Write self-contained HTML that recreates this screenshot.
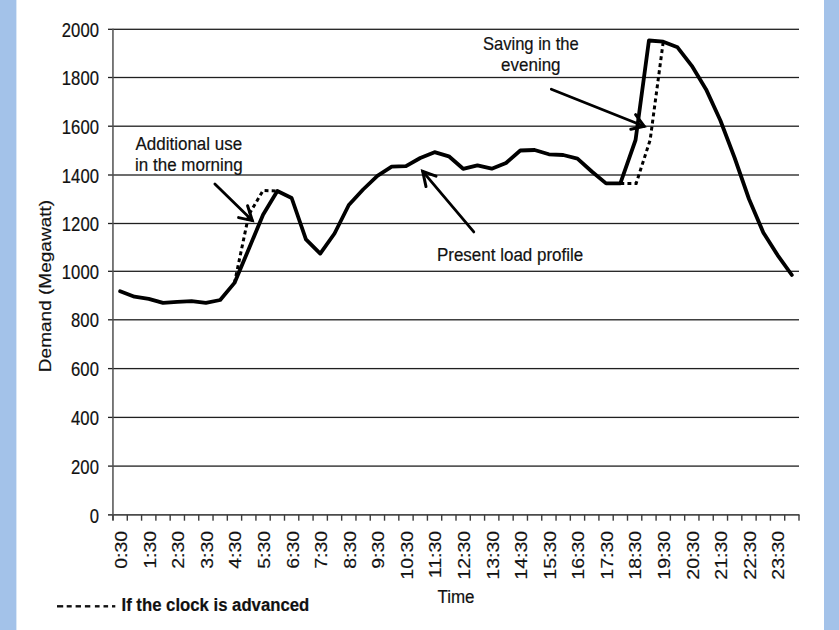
<!DOCTYPE html><html><head><meta charset="utf-8"><style>html,body{margin:0;padding:0;background:#fff;}svg{display:block}</style></head><body>
<svg width="839" height="630" viewBox="0 0 839 630" font-family="'Liberation Sans', sans-serif">
<style>text{stroke:#111;stroke-width:0.18px;paint-order:stroke}</style>
<rect x="0" y="0" width="839" height="630" fill="#ffffff"/>
<rect x="0" y="0" width="16.4" height="630" fill="#a3c2e9"/>
<rect x="824" y="0" width="15" height="630" fill="#a3c2e9"/>
<rect x="108" y="28.65" width="691.0" height="1.3" fill="#202020"/>
<rect x="108" y="76.85" width="691.0" height="1.3" fill="#202020"/>
<rect x="108" y="125.55" width="691.0" height="1.3" fill="#202020"/>
<rect x="108" y="174.35" width="691.0" height="1.3" fill="#202020"/>
<rect x="108" y="222.85" width="691.0" height="1.3" fill="#202020"/>
<rect x="108" y="270.65" width="691.0" height="1.3" fill="#202020"/>
<rect x="108" y="319.15" width="691.0" height="1.3" fill="#202020"/>
<rect x="108" y="367.95" width="691.0" height="1.3" fill="#202020"/>
<rect x="108" y="416.75" width="691.0" height="1.3" fill="#202020"/>
<rect x="108" y="465.45" width="691.0" height="1.3" fill="#202020"/>
<rect x="108" y="514.20" width="691.5" height="1.4" fill="#202020"/>
<rect x="112.2" y="28.70" width="1.5" height="491.6" fill="#505050"/>
<rect x="112.30" y="514.9" width="1.4" height="5.8" fill="#3c3c3c"/>
<rect x="126.59" y="514.9" width="1.4" height="5.8" fill="#3c3c3c"/>
<rect x="140.88" y="514.9" width="1.4" height="5.8" fill="#3c3c3c"/>
<rect x="155.18" y="514.9" width="1.4" height="5.8" fill="#3c3c3c"/>
<rect x="169.47" y="514.9" width="1.4" height="5.8" fill="#3c3c3c"/>
<rect x="183.76" y="514.9" width="1.4" height="5.8" fill="#3c3c3c"/>
<rect x="198.05" y="514.9" width="1.4" height="5.8" fill="#3c3c3c"/>
<rect x="212.34" y="514.9" width="1.4" height="5.8" fill="#3c3c3c"/>
<rect x="226.63" y="514.9" width="1.4" height="5.8" fill="#3c3c3c"/>
<rect x="240.93" y="514.9" width="1.4" height="5.8" fill="#3c3c3c"/>
<rect x="255.22" y="514.9" width="1.4" height="5.8" fill="#3c3c3c"/>
<rect x="269.51" y="514.9" width="1.4" height="5.8" fill="#3c3c3c"/>
<rect x="283.80" y="514.9" width="1.4" height="5.8" fill="#3c3c3c"/>
<rect x="298.09" y="514.9" width="1.4" height="5.8" fill="#3c3c3c"/>
<rect x="312.38" y="514.9" width="1.4" height="5.8" fill="#3c3c3c"/>
<rect x="326.68" y="514.9" width="1.4" height="5.8" fill="#3c3c3c"/>
<rect x="340.97" y="514.9" width="1.4" height="5.8" fill="#3c3c3c"/>
<rect x="355.26" y="514.9" width="1.4" height="5.8" fill="#3c3c3c"/>
<rect x="369.55" y="514.9" width="1.4" height="5.8" fill="#3c3c3c"/>
<rect x="383.84" y="514.9" width="1.4" height="5.8" fill="#3c3c3c"/>
<rect x="398.13" y="514.9" width="1.4" height="5.8" fill="#3c3c3c"/>
<rect x="412.43" y="514.9" width="1.4" height="5.8" fill="#3c3c3c"/>
<rect x="426.72" y="514.9" width="1.4" height="5.8" fill="#3c3c3c"/>
<rect x="441.01" y="514.9" width="1.4" height="5.8" fill="#3c3c3c"/>
<rect x="455.30" y="514.9" width="1.4" height="5.8" fill="#3c3c3c"/>
<rect x="469.59" y="514.9" width="1.4" height="5.8" fill="#3c3c3c"/>
<rect x="483.88" y="514.9" width="1.4" height="5.8" fill="#3c3c3c"/>
<rect x="498.18" y="514.9" width="1.4" height="5.8" fill="#3c3c3c"/>
<rect x="512.47" y="514.9" width="1.4" height="5.8" fill="#3c3c3c"/>
<rect x="526.76" y="514.9" width="1.4" height="5.8" fill="#3c3c3c"/>
<rect x="541.05" y="514.9" width="1.4" height="5.8" fill="#3c3c3c"/>
<rect x="555.34" y="514.9" width="1.4" height="5.8" fill="#3c3c3c"/>
<rect x="569.63" y="514.9" width="1.4" height="5.8" fill="#3c3c3c"/>
<rect x="583.92" y="514.9" width="1.4" height="5.8" fill="#3c3c3c"/>
<rect x="598.22" y="514.9" width="1.4" height="5.8" fill="#3c3c3c"/>
<rect x="612.51" y="514.9" width="1.4" height="5.8" fill="#3c3c3c"/>
<rect x="626.80" y="514.9" width="1.4" height="5.8" fill="#3c3c3c"/>
<rect x="641.09" y="514.9" width="1.4" height="5.8" fill="#3c3c3c"/>
<rect x="655.38" y="514.9" width="1.4" height="5.8" fill="#3c3c3c"/>
<rect x="669.67" y="514.9" width="1.4" height="5.8" fill="#3c3c3c"/>
<rect x="683.97" y="514.9" width="1.4" height="5.8" fill="#3c3c3c"/>
<rect x="698.26" y="514.9" width="1.4" height="5.8" fill="#3c3c3c"/>
<rect x="712.55" y="514.9" width="1.4" height="5.8" fill="#3c3c3c"/>
<rect x="726.84" y="514.9" width="1.4" height="5.8" fill="#3c3c3c"/>
<rect x="741.13" y="514.9" width="1.4" height="5.8" fill="#3c3c3c"/>
<rect x="755.42" y="514.9" width="1.4" height="5.8" fill="#3c3c3c"/>
<rect x="769.72" y="514.9" width="1.4" height="5.8" fill="#3c3c3c"/>
<rect x="784.01" y="514.9" width="1.4" height="5.8" fill="#3c3c3c"/>
<rect x="798.30" y="514.9" width="1.4" height="5.8" fill="#3c3c3c"/>
<text transform="translate(98.9,36.90) scale(0.98,1.15)" font-size="17" text-anchor="end" fill="#111">2000</text>
<text transform="translate(98.9,85.10) scale(0.98,1.15)" font-size="17" text-anchor="end" fill="#111">1800</text>
<text transform="translate(98.9,133.80) scale(0.98,1.15)" font-size="17" text-anchor="end" fill="#111">1600</text>
<text transform="translate(98.9,182.60) scale(0.98,1.15)" font-size="17" text-anchor="end" fill="#111">1400</text>
<text transform="translate(98.9,231.10) scale(0.98,1.15)" font-size="17" text-anchor="end" fill="#111">1200</text>
<text transform="translate(98.9,278.90) scale(0.98,1.15)" font-size="17" text-anchor="end" fill="#111">1000</text>
<text transform="translate(98.9,327.40) scale(0.98,1.15)" font-size="17" text-anchor="end" fill="#111">800</text>
<text transform="translate(98.9,376.20) scale(0.98,1.15)" font-size="17" text-anchor="end" fill="#111">600</text>
<text transform="translate(98.9,425.00) scale(0.98,1.15)" font-size="17" text-anchor="end" fill="#111">400</text>
<text transform="translate(98.9,473.70) scale(0.98,1.15)" font-size="17" text-anchor="end" fill="#111">200</text>
<text transform="translate(98.9,522.50) scale(0.98,1.15)" font-size="17" text-anchor="end" fill="#111">0</text>
<text transform="translate(127.20,530.8) scale(1,1.15) rotate(-90)" font-size="17" text-anchor="end" fill="#111">0:30</text>
<text transform="translate(155.77,530.8) scale(1,1.15) rotate(-90)" font-size="17" text-anchor="end" fill="#111">1:30</text>
<text transform="translate(184.33,530.8) scale(1,1.15) rotate(-90)" font-size="17" text-anchor="end" fill="#111">2:30</text>
<text transform="translate(212.90,530.8) scale(1,1.15) rotate(-90)" font-size="17" text-anchor="end" fill="#111">3:30</text>
<text transform="translate(241.46,530.8) scale(1,1.15) rotate(-90)" font-size="17" text-anchor="end" fill="#111">4:30</text>
<text transform="translate(270.03,530.8) scale(1,1.15) rotate(-90)" font-size="17" text-anchor="end" fill="#111">5:30</text>
<text transform="translate(298.59,530.8) scale(1,1.15) rotate(-90)" font-size="17" text-anchor="end" fill="#111">6:30</text>
<text transform="translate(327.16,530.8) scale(1,1.15) rotate(-90)" font-size="17" text-anchor="end" fill="#111">7:30</text>
<text transform="translate(355.72,530.8) scale(1,1.15) rotate(-90)" font-size="17" text-anchor="end" fill="#111">8:30</text>
<text transform="translate(384.29,530.8) scale(1,1.15) rotate(-90)" font-size="17" text-anchor="end" fill="#111">9:30</text>
<text transform="translate(412.85,530.8) scale(1,1.15) rotate(-90)" font-size="17" text-anchor="end" fill="#111">10:30</text>
<text transform="translate(441.42,530.8) scale(1,1.15) rotate(-90)" font-size="17" text-anchor="end" fill="#111">11:30</text>
<text transform="translate(469.98,530.8) scale(1,1.15) rotate(-90)" font-size="17" text-anchor="end" fill="#111">12:30</text>
<text transform="translate(498.55,530.8) scale(1,1.15) rotate(-90)" font-size="17" text-anchor="end" fill="#111">13:30</text>
<text transform="translate(527.11,530.8) scale(1,1.15) rotate(-90)" font-size="17" text-anchor="end" fill="#111">14:30</text>
<text transform="translate(555.68,530.8) scale(1,1.15) rotate(-90)" font-size="17" text-anchor="end" fill="#111">15:30</text>
<text transform="translate(584.24,530.8) scale(1,1.15) rotate(-90)" font-size="17" text-anchor="end" fill="#111">16:30</text>
<text transform="translate(612.81,530.8) scale(1,1.15) rotate(-90)" font-size="17" text-anchor="end" fill="#111">17:30</text>
<text transform="translate(641.37,530.8) scale(1,1.15) rotate(-90)" font-size="17" text-anchor="end" fill="#111">18:30</text>
<text transform="translate(669.94,530.8) scale(1,1.15) rotate(-90)" font-size="17" text-anchor="end" fill="#111">19:30</text>
<text transform="translate(698.50,530.8) scale(1,1.15) rotate(-90)" font-size="17" text-anchor="end" fill="#111">20:30</text>
<text transform="translate(727.07,530.8) scale(1,1.15) rotate(-90)" font-size="17" text-anchor="end" fill="#111">21:30</text>
<text transform="translate(755.63,530.8) scale(1,1.15) rotate(-90)" font-size="17" text-anchor="end" fill="#111">22:30</text>
<text transform="translate(784.20,530.8) scale(1,1.15) rotate(-90)" font-size="17" text-anchor="end" fill="#111">23:30</text>
<text transform="translate(50.8,286) scale(1,1.12) rotate(-90)" font-size="17" text-anchor="middle" fill="#111">Demand (Megawatt)</text>
<text transform="translate(456,603.2) scale(1,1.12)" font-size="17" text-anchor="middle" fill="#111">Time</text>
<text transform="translate(188.8,149.5) scale(1,1.12)" font-size="17" text-anchor="middle" fill="#111">Additional use</text>
<text transform="translate(188.9,170.5) scale(1,1.12)" font-size="17" text-anchor="middle" fill="#111">in the morning</text>
<text transform="translate(530.8,49.9) scale(0.975,1.12)" font-size="17" text-anchor="middle" fill="#111">Saving in the</text>
<text transform="translate(530.8,71.3) scale(1,1.12)" font-size="17" text-anchor="middle" fill="#111">evening</text>
<text transform="translate(510.1,261.2) scale(1,1.12)" font-size="17" text-anchor="middle" fill="#111">Present load profile</text>
<rect x="57.00" y="605.1" width="6.20" height="2.4" fill="#111"/>
<rect x="66.70" y="605.1" width="5.00" height="2.4" fill="#111"/>
<rect x="75.60" y="605.1" width="5.40" height="2.4" fill="#111"/>
<rect x="84.90" y="605.1" width="5.40" height="2.4" fill="#111"/>
<rect x="94.90" y="605.1" width="4.70" height="2.4" fill="#111"/>
<rect x="103.50" y="605.1" width="4.60" height="2.4" fill="#111"/>
<rect x="112.00" y="605.1" width="3.30" height="2.4" fill="#111"/>
<text transform="translate(121.5,611.4) scale(0.985,1.12)" font-size="17" font-weight="bold" fill="#111">If the clock is advanced</text>
<polyline points="234.48,283.00 248.77,214.80 263.06,190.50 277.35,191.00" fill="none" stroke="#000" stroke-width="3.0" stroke-dasharray="3.9 3.2" stroke-linejoin="miter"/>
<polyline points="620.35,183.40 636.15,183.40 650.14,140.00 663.23,41.70" fill="none" stroke="#000" stroke-width="3.0" stroke-dasharray="3.9 3.2" stroke-linejoin="miter"/>
<polyline points="120.15,291.25 134.44,296.70 148.73,298.90 163.02,302.90 177.31,301.90 191.60,301.10 205.90,302.80 220.19,300.00 234.48,282.90 248.77,249.00 263.06,214.80 277.35,191.00 291.65,198.00 305.94,239.30 320.23,253.60 334.52,233.50 348.81,205.00 363.10,189.50 377.40,175.80 391.69,166.70 405.98,166.20 420.27,158.00 434.56,152.20 448.85,156.30 463.15,168.80 477.44,165.30 491.73,168.70 506.02,163.00 520.31,150.50 534.60,150.00 548.90,154.30 563.19,155.00 577.48,158.60 591.77,171.50 606.06,183.40 620.35,183.40 635.55,140.00 648.94,40.50 663.23,41.70 677.52,47.30 691.81,65.80 706.10,89.40 720.40,120.50 734.69,158.00 748.98,199.00 763.27,232.40 777.56,255.10 791.85,275.00" fill="none" stroke="#000" stroke-width="3.8" stroke-linejoin="round" stroke-linecap="round"/>
<line x1="214.9" y1="183.9" x2="252.3" y2="220.6" stroke="#000" stroke-width="2.8" stroke-linecap="round"/>
<polyline points="238.6,217.6 252.3,220.6 247.6,205.7" fill="none" stroke="#000" stroke-width="3.0" stroke-linecap="round" stroke-linejoin="miter" stroke-miterlimit="10"/>
<line x1="473.8" y1="231.9" x2="422.7" y2="171.4" stroke="#000" stroke-width="2.8" stroke-linecap="round"/>
<polyline points="426,186.6 422.7,171.4 436,176.2" fill="none" stroke="#000" stroke-width="3.0" stroke-linecap="round" stroke-linejoin="miter" stroke-miterlimit="10"/>
<line x1="551.3" y1="89.2" x2="644.2" y2="126.2" stroke="#000" stroke-width="2.8" stroke-linecap="round"/>
<polyline points="630.8,129.2 644.2,126.2 635.6,114.7" fill="none" stroke="#000" stroke-width="3.0" stroke-linecap="round" stroke-linejoin="miter" stroke-miterlimit="10"/>
</svg></body></html>
